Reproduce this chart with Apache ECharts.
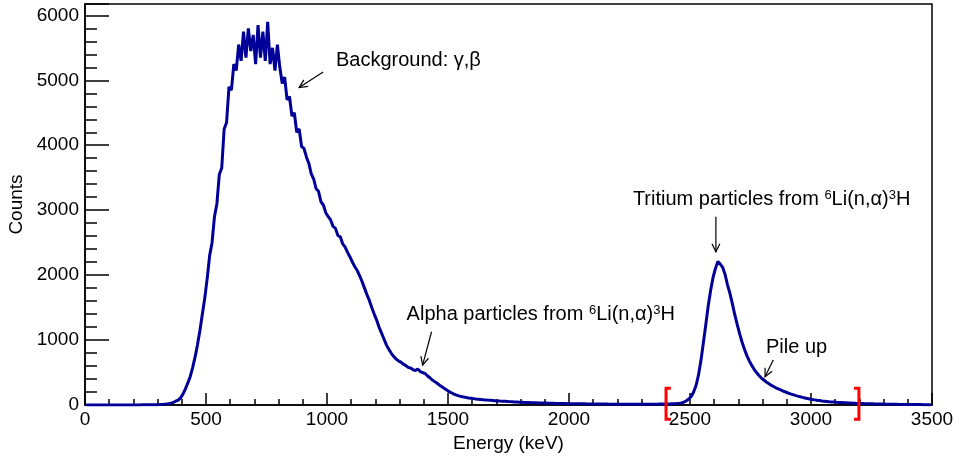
<!DOCTYPE html>
<html>
<head>
<meta charset="utf-8">
<script src="https://cdn.jsdelivr.net/npm/echarts@6/dist/echarts.min.js"></script>
<style>
html,body{margin:0;padding:0;background:#fff;}
#chart{width:957px;height:456px;}
</style>
</head>
<body>
<div id="chart"></div>
<script>
// ---- data ----
const binStart = 0;      // keV
const binWidth = 10;     // keV
const counts = [
  0,0,0,0,0,0,0,0,0,0, 0,0,0,0,0,0,0,0,0,0,
  1,1,1,2,2,2,3,3,4,5, 6,8,10,14,20,
  28,40,58,75,110,170,250,340,440,580, 740,930,1150,1400,1650,
  1950,2300,2500,2900,3100,3550,3650,4250,4350,4900,
  4850,5250,5150,5550,5300,5750,5350,5800,5450,5700,
  5250,5850,5350,5750,5300,5900,5250,5500,5150,5550,
  5200,4950,5050,4700,4750,4450,4500,4200,4250,3980,
  3950,3820,3720,3560,3480,3330,3290,3130,3080,2960,
  2900,2850,2750,2720,2610,2590,2480,2430,2350,2280,
  2200,2130,2070,1990,1900,1800,1700,1610,1500,1400,
  1310,1200,1110,1020,930,860,800,750,710,680,
  660,630,610,580,570,545,530,555,515,500,
  485,450,420,385,360,335,305,280,255,230,
  205,185,168,152,140,130,122,115,108,103,
  98,93,89,85,81,78,75,72,69,66,
  63,60,58,56,54,52,50,48,46,44,
  42,40,38,37,35,34,33,32,31,30,
  29,28,27,26,25,24,24,23,22,21,
  21,20,20,19,19,18,18,17,17,16,
  16,15,15,14,14,14,13,13,13,12,
  12,12,12,11,11,11,11,11,10,10,
  10,11,11,12,12,13,13,14,14,15,
  15,16,18,20,22,25,32,45,65,92,
  130,200,300,460,680,950,1230,1520,1760,1960,
  2100,2210,2170,2120,2010,1850,1720,1560,1390,1240,
  1100,970,860,760,680,610,550,500,455,415,
  385,355,330,305,285,265,248,232,215,200,
  185,172,160,148,137,128,118,108,100,92,
  85,79,73,68,63,59,55,51,48,45,
  42,40,38,36,34,32,30,28,26,25,
  23,22,21,20,19,18,17,16,15,14,
  13,12,12,11,10,10,9,9,8,8,
  7,7,7,6,6,6,5,5,5,5
];
const xTitle = 'Energy (keV)';
const yTitle = 'Counts';
const xRange = [0, 3500];
const yRange = [0, 6175];

// annotations (data coordinates)
const labels = [
  {text: 'Background: γ,β', at: [1037, 5303]},
  {text: 'Alpha particles from {sup|6}Li(n,α){sup|3}H', at: [1329, 1401]},
  {text: 'Tritium particles from {sup|6}Li(n,α){sup|3}H', at: [2264, 3168]},
  {text: 'Pile up', at: [2814, 888]}
];
const arrows = [
  {from: [984, 5128], to: [885, 4888]},
  {from: [1432, 1128], to: [1395, 615]},
  {from: [2607, 2897], to: [2607, 2358]},
  {from: [2844, 692], to: [2810, 435]}
];
// [ at 2401 keV, ] at 3198 keV
const brackets = [
  {x: 2401, dir: 1, yTop: 257, yBot: -220, serif: 20},
  {x: 3198, dir: -1, yTop: 257, yBot: -220, serif: 20}
];

// ---- chart ----
const FONT = '"Liberation Sans", Arial, Helvetica, sans-serif';
const histData = counts.map((c, i) => [binStart + (i + 0.5) * binWidth, c]);

const chart = echarts.init(document.getElementById('chart'), null, {renderer: 'canvas'});
chart.setOption({
  animation: false,
  backgroundColor: '#ffffff',
  grid: {left: 85, right: 25, top: 4, bottom: 51, containLabel: false, outerBoundsMode: 'none',
    show: true, borderColor: '#000', borderWidth: 1.5, backgroundColor: 'transparent'},
  xAxis: {
    type: 'value', min: xRange[0], max: xRange[1], interval: 500,
    name: xTitle, nameLocation: 'middle', nameGap: 26,
    nameTextStyle: {fontFamily: FONT, fontSize: 19, color: '#000'},
    axisLine: {show: true, lineStyle: {color: '#000', width: 1.5}},
    axisTick: {show: true, inside: true, length: 12, lineStyle: {color: '#000', width: 1.5}},
    minorTick: {show: true, splitNumber: 5, length: 6, lineStyle: {color: '#000', width: 1.5}},
    axisLabel: {fontFamily: FONT, fontSize: 19, color: '#000', margin: 5, formatter: v => String(v)},
    splitLine: {show: false}
  },
  yAxis: {
    type: 'value', min: yRange[0], max: yRange[1], interval: 1000,
    name: yTitle, nameLocation: 'middle', nameGap: 58, nameRotate: 90,
    nameTextStyle: {fontFamily: FONT, fontSize: 19, color: '#000'},
    axisLine: {show: true, lineStyle: {color: '#000', width: 1.5}},
    axisTick: {show: true, inside: true, length: 24, lineStyle: {color: '#000', width: 1.5}},
    minorTick: {show: true, splitNumber: 5, length: 12, lineStyle: {color: '#000', width: 1.5}},
    axisLabel: {fontFamily: FONT, fontSize: 19, color: '#000', margin: 6,
      formatter: v => (v % 1000 === 0 ? String(v) : '')},
    splitLine: {show: false}
  },
  series: [{
    type: 'line', data: histData, showSymbol: false, symbol: 'none',
    lineStyle: {color: '#000099', width: 3}, clip: true, z: 3
  }]
});

function px(p) { return chart.convertToPixel({gridIndex: 0}, p); }

const graphics = [];
labels.forEach(l => {
  const p = px(l.at);
  graphics.push({
    type: 'text', x: p[0], y: p[1], z: 10,
    style: {
      text: l.text, fill: '#000', fontFamily: FONT, fontSize: 20,
      align: 'left', verticalAlign: 'middle', textAlign: 'left', textVerticalAlign: 'middle',
      lineHeight: 20,
      rich: {sup: {fontFamily: FONT, fontSize: 13, lineHeight: 13, verticalAlign: 'top', fill: '#000'}}
    }
  });
});
arrows.forEach(a => {
  const f = px(a.from), t = px(a.to);
  const ang = Math.atan2(t[1] - f[1], t[0] - f[0]);
  const hl = 9, spread = 0.45;
  const h1 = [t[0] - hl * Math.cos(ang - spread), t[1] - hl * Math.sin(ang - spread)];
  const h2 = [t[0] - hl * Math.cos(ang + spread), t[1] - hl * Math.sin(ang + spread)];
  graphics.push({type: 'line', z: 10, shape: {x1: f[0], y1: f[1], x2: t[0], y2: t[1]}, style: {stroke: '#000', lineWidth: 1.2}});
  graphics.push({type: 'polyline', z: 10, shape: {points: [h1, t, h2]}, style: {stroke: '#000', lineWidth: 1.2, fill: null}});
});
brackets.forEach(b => {
  const top = px([b.x, b.yTop]), bot = px([b.x, b.yBot]);
  const sx = px([b.x + b.dir * b.serif, b.yTop])[0];
  graphics.push({type: 'polyline', z: 10, shape: {points: [[sx, top[1]], [top[0], top[1]], [bot[0], bot[1]], [sx, bot[1]]]},
    style: {stroke: '#ff0000', lineWidth: 3, fill: null}});
});
chart.setOption({graphic: graphics});
</script>
</body>
</html>
